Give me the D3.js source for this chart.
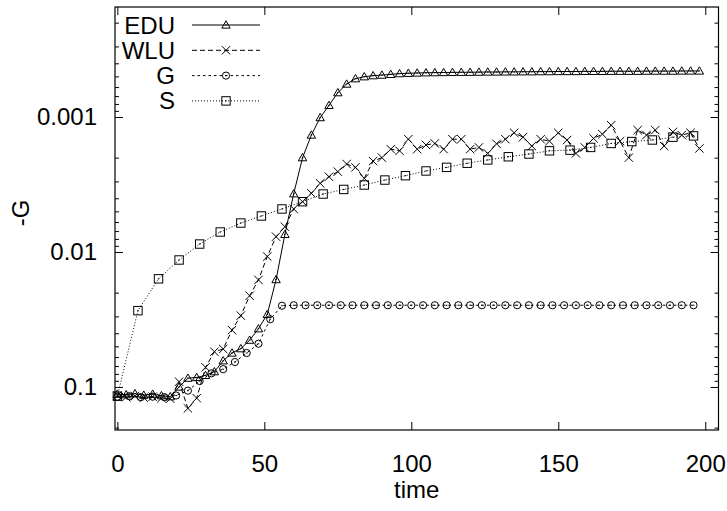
<!DOCTYPE html>
<html>
<head>
<meta charset="utf-8">
<script src="https://cdn.jsdelivr.net/npm/d3@7"></script>
<style>
  body { margin: 0; background: #fff; }
  svg { display: block; }
  text { font-family: "Liberation Sans", Arial, sans-serif; fill: #000; }
</style>
</head>
<body>
<script>
// sampling grids (time)
const timeEDU = d3.range(0, 199, 3);
const timeWLU = d3.range(0, 199, 3);
const timeG = d3.range(0, 197, 4);
const timeS = d3.range(0, 197, 7);

// -G values
const edu = [0.113, 0.114, 0.112, 0.115, 0.113, 0.116, 0.118,
  0.100, 0.086, 0.085, 0.082, 0.077, 0.064, 0.056, 0.052, 0.045, 0.037, 0.029, 0.016, 0.0074, 0.0037,
  0.0020, 0.00136, 0.00101, 0.00082, 0.00066, 0.00057, 0.00052, 0.000503, 0.000494, 0.000489, 0.000483, 0.000477, 0.000474,
  0.000472, 0.00047, 0.000469, 0.000468, 0.000467, 0.000466, 0.000466, 0.000465, 0.000464, 0.000464, 0.000463,
  0.000463, 0.000462, 0.000462, 0.000461, 0.000461, 0.00046, 0.00046, 0.00046, 0.000459, 0.000459, 0.000459,
  0.000458, 0.000458, 0.000458, 0.000458, 0.000457, 0.000457, 0.000457, 0.000457, 0.000456, 0.000456, 0.000456];

const wlu = [0.116, 0.119, 0.117, 0.120, 0.118, 0.121, 0.122,
  0.0914, 0.144, 0.121, 0.0715, 0.0548, 0.0523, 0.0379, 0.0296, 0.0211, 0.0161, 0.0108, 0.0077, 0.0065, 0.0048,
  0.00424, 0.00367, 0.0031, 0.00277, 0.00254, 0.00223, 0.00236, 0.00285, 0.00212, 0.0020, 0.00173, 0.00178, 0.00146,
  0.00173, 0.00161, 0.00157, 0.00173, 0.00146, 0.00146, 0.00173, 0.00168, 0.00186, 0.00158, 0.00146,
  0.00131, 0.00141, 0.00164, 0.00146, 0.00151, 0.00131, 0.00148, 0.00186, 0.00168, 0.00144, 0.00134,
  0.00115, 0.00151, 0.0020, 0.00125, 0.00136, 0.00125, 0.00164, 0.00129, 0.00136, 0.00131, 0.00171];

const gVals = [0.118, 0.117, 0.119, 0.118, 0.119, 0.1156, 0.1065, 0.0903, 0.0792, 0.0738, 0.0653, 0.056, 0.0478, 0.0315, 0.0250,
  0.0248, 0.0248, 0.0248, 0.0248, 0.0248, 0.0248, 0.0248, 0.0248, 0.0248, 0.0248, 0.0248, 0.0248,
  0.0248, 0.0248, 0.0248, 0.0248, 0.0248, 0.0248, 0.0248, 0.0248, 0.0248, 0.0248, 0.0248, 0.0248,
  0.0248, 0.0248, 0.0248, 0.0248, 0.0248, 0.0248, 0.0248, 0.0248, 0.0248, 0.0248, 0.0248];

const sVals = [0.117, 0.0272, 0.0158, 0.01146, 0.00873, 0.00711, 0.0061, 0.00541, 0.0048, 0.00424,
  0.00372, 0.00344, 0.00319, 0.00293, 0.00272, 0.00251, 0.00236, 0.0022, 0.00208, 0.00197,
  0.00188, 0.00178, 0.00176, 0.00168, 0.00157, 0.00152, 0.00148, 0.00141, 0.00138];

const xTicks = [0, 50, 100, 150, 200];
const yMajor = [0.001, 0.01, 0.1];
const yLabels = ['0.001', '0.01', '0.1'];

const W = 727, H = 511;
const plotL = 115, plotR = 718.5, plotT = 7, plotB = 430;

const svg = d3.select('body').append('svg')
  .attr('width', W)
  .attr('height', H);

const x = d3.scaleLinear().domain([-0.8, 204.5]).range([plotL, plotR]);
const y = d3.scaleLog().domain([1.531e-4, 0.2083]).range([plotT, plotB]);

// minor log ticks inside the domain
const yMinor = [];
[1e-4, 1e-3, 1e-2, 1e-1].forEach(p => {
  for (let k = 2; k <= 9; k++) {
    const v = k * p;
    if (v >= y.domain()[0] && v <= y.domain()[1]) yMinor.push(v);
  }
});

const FS = 24;

// Axes (ticks pointing inward, mirrored)
svg.append('g')
  .attr('transform', `translate(0,${plotB})`)
  .call(d3.axisBottom(x).tickValues(xTicks).tickSize(-8).tickPadding(25).tickFormat(d3.format('d')))
  .call(g => g.select('.domain').remove())
  .call(g => g.selectAll('text').style('font-size', FS + 'px'));

svg.append('g')
  .attr('transform', `translate(0,${plotT})`)
  .call(d3.axisTop(x).tickValues(xTicks).tickSize(-8).tickFormat(''))
  .call(g => g.select('.domain').remove());

svg.append('g')
  .attr('transform', `translate(${plotL},0)`)
  .call(d3.axisLeft(y).tickValues(yMajor).tickSize(-8).tickPadding(18).tickFormat((d, i) => yLabels[i]))
  .call(g => g.select('.domain').remove())
  .call(g => g.selectAll('text').style('font-size', FS + 'px'));

svg.append('g')
  .attr('transform', `translate(${plotL},0)`)
  .call(d3.axisLeft(y).tickValues(yMinor).tickSize(-4).tickFormat(''))
  .call(g => g.select('.domain').remove());

svg.append('g')
  .attr('transform', `translate(${plotR},0)`)
  .call(d3.axisRight(y).tickValues(yMajor).tickSize(-8).tickFormat(''))
  .call(g => g.select('.domain').remove());

svg.append('g')
  .attr('transform', `translate(${plotR},0)`)
  .call(d3.axisRight(y).tickValues(yMinor).tickSize(-4).tickFormat(''))
  .call(g => g.select('.domain').remove());

svg.selectAll('.tick line').attr('stroke', '#000').attr('stroke-width', 1);

// frame
svg.append('rect')
  .attr('x', plotL).attr('y', plotT)
  .attr('width', plotR - plotL).attr('height', plotB - plotT)
  .attr('fill', 'none').attr('stroke', '#000').attr('stroke-width', 1.2);

// axis titles
svg.append('text')
  .attr('x', (plotL + plotR) / 2).attr('y', 498)
  .attr('text-anchor', 'middle')
  .style('font-size', FS + 'px')
  .text('time');

svg.append('text')
  .attr('transform', 'translate(29,213) rotate(-90)')
  .attr('text-anchor', 'middle')
  .style('font-size', FS + 'px')
  .text('-G');

// markers
function drawMarker(g, type) {
  const s = 4.2;
  if (type === 'tri') {
    g.append('path').attr('d', `M0,${-s}L${s},${s * 0.75}L${-s},${s * 0.75}Z`)
      .attr('fill', 'none').attr('stroke', '#000').attr('stroke-width', 1);
  } else if (type === 'cross') {
    g.append('path').attr('d', `M${-s},${-s}L${s},${s}M${-s},${s}L${s},${-s}`)
      .attr('stroke', '#000').attr('stroke-width', 1);
  } else if (type === 'circle') {
    g.append('circle').attr('r', 3.6)
      .attr('fill', 'none').attr('stroke', '#000').attr('stroke-width', 1);
  } else if (type === 'square') {
    g.append('rect').attr('x', -s).attr('y', -s).attr('width', 2 * s).attr('height', 2 * s)
      .attr('fill', 'none').attr('stroke', '#000').attr('stroke-width', 1);
  }
  if (type !== 'cross') {
    g.append('rect').attr('x', -0.8).attr('y', -0.5).attr('width', 1.6).attr('height', 1)
      .attr('fill', '#000');
  }
}

const series = [
  { name: 'EDU', t: timeEDU, v: edu, dash: null, marker: 'tri' },
  { name: 'WLU', t: timeWLU, v: wlu, dash: '5,3', marker: 'cross' },
  { name: 'G', t: timeG, v: gVals, dash: '2.5,3', marker: 'circle' },
  { name: 'S', t: timeS, v: sVals, dash: '1,2', marker: 'square' }
];

const line = d3.line().x(d => x(d[0])).y(d => y(d[1]));

series.forEach(s => {
  const pts = s.t.map((t, i) => [t, s.v[i]]);
  svg.append('path')
    .datum(pts)
    .attr('d', line)
    .attr('fill', 'none')
    .attr('stroke', '#000')
    .attr('stroke-width', 1)
    .attr('stroke-dasharray', s.dash);
  svg.append('g').selectAll('g')
    .data(pts)
    .enter().append('g')
    .attr('transform', d => `translate(${x(d[0])},${y(d[1])})`)
    .each(function () { drawMarker(d3.select(this), s.marker); });
});

// legend
const legend = svg.append('g');
series.forEach((s, i) => {
  const ly = 25 + i * 25.3;
  legend.append('text')
    .attr('x', 175).attr('y', ly + 8.5)
    .attr('text-anchor', 'end')
    .style('font-size', FS + 'px')
    .text(s.name);
  legend.append('line')
    .attr('x1', 192).attr('x2', 260).attr('y1', ly).attr('y2', ly)
    .attr('stroke', '#000').attr('stroke-width', 1)
    .attr('stroke-dasharray', s.dash);
  drawMarker(legend.append('g').attr('transform', `translate(226,${ly})`), s.marker);
});
</script>
</body>
</html>
